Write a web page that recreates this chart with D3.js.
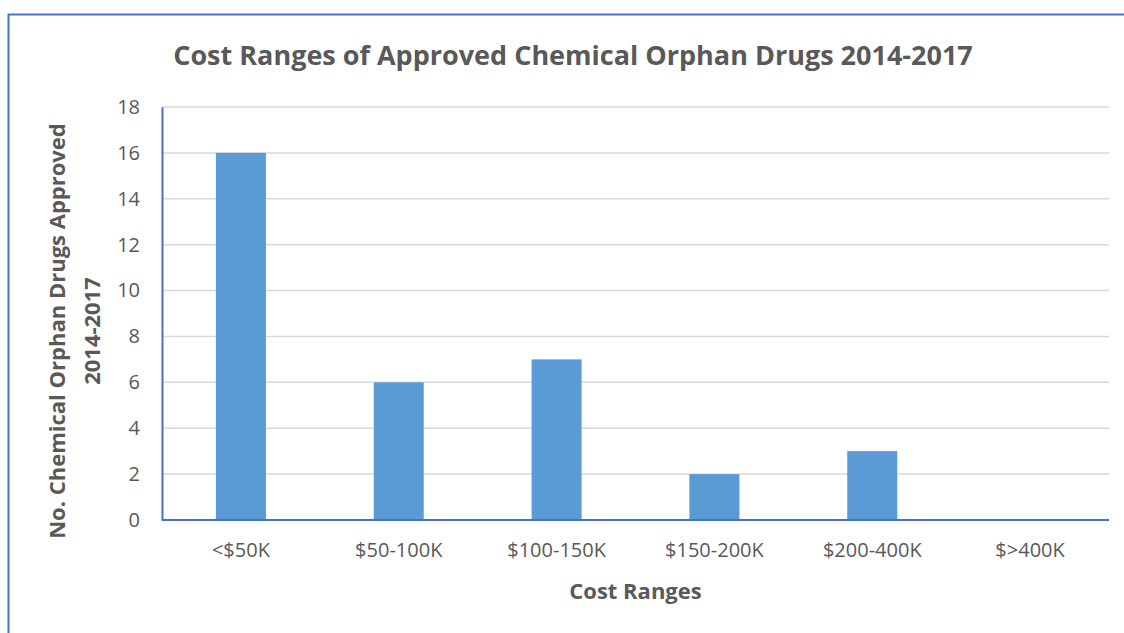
<!DOCTYPE html>
<html>
<head>
<meta charset="utf-8">
<script src="https://cdn.jsdelivr.net/npm/d3@7"></script>
<style>
  html, body { margin: 0; padding: 0; background: #fff; }
  svg { display: block; }
  text { font-family: "Open Sans", "Noto Sans", sans-serif; fill: #595959; }
</style>
</head>
<body>
<svg id="chart" width="1124" height="633"></svg>
<script>
// Cost range categories and counts of approved drugs
const categories = ["<$50K", "$50-100K", "$100-150K", "$150-200K", "$200-400K", "$>400K"];
const counts = [16, 6, 7, 2, 3, 0];
const yTicks = [0, 2, 4, 6, 8, 10, 12, 14, 16, 18];

const svg = d3.select("#chart");
const W = 1124, H = 633;
const plot = { left: 162, right: 1109, top: 107, bottom: 520 };

// Outer frame
svg.append("rect")
  .attr("x", 8.5).attr("y", 14.5)
  .attr("width", W + 10).attr("height", H + 10)
  .attr("fill", "#fff").attr("stroke", "#4472C4").attr("stroke-width", 2);

const x = d3.scaleBand()
  .domain(categories)
  .range([plot.left, plot.right])
  .paddingInner(0.683)
  .paddingOuter(0.3415);

const y = d3.scaleLinear().domain([0, 18]).range([plot.bottom, plot.top]);

// Horizontal gridlines
svg.append("g")
  .selectAll("line")
  .data(yTicks.filter(d => d > 0))
  .join("line")
  .attr("x1", plot.left).attr("x2", plot.right)
  .attr("y1", d => y(d)).attr("y2", d => y(d))
  .attr("stroke", "#d9d9d9").attr("stroke-width", 1.5);

// Bars
svg.append("g")
  .selectAll("rect")
  .data(categories.map((c, i) => ({ c, v: counts[i] })))
  .join("rect")
  .attr("x", d => x(d.c))
  .attr("width", x.bandwidth())
  .attr("y", d => y(d.v))
  .attr("height", d => y(0) - y(d.v))
  .attr("fill", "#5B9BD5");

// Y axis
const yAxis = svg.append("g")
  .attr("transform", `translate(${plot.left},0)`)
  .call(d3.axisLeft(y).tickValues(yTicks).tickSize(0).tickPadding(22));
yAxis.select(".domain").attr("stroke", "#4472C4").attr("stroke-width", 2);
yAxis.selectAll("text").attr("font-size", 20).attr("fill", "#595959")
  .style("font-family", "'Open Sans', sans-serif");

// X axis
const xAxis = svg.append("g")
  .attr("transform", `translate(0,${plot.bottom})`)
  .call(d3.axisBottom(x).tickSize(0).tickPadding(23));
xAxis.select(".domain").attr("stroke", "#4472C4").attr("stroke-width", 2)
  .attr("d", `M${plot.left},0H${plot.right}`);
xAxis.selectAll("text").attr("font-size", 20).attr("fill", "#595959")
  .style("font-family", "'Open Sans', sans-serif");

// Title
svg.append("text")
  .attr("x", 573).attr("y", 65)
  .attr("text-anchor", "middle")
  .attr("font-size", 27).attr("font-weight", "bold")
  .text("Cost Ranges of Approved Chemical Orphan Drugs 2014-2017");

// X axis title
svg.append("text")
  .attr("x", (plot.left + plot.right) / 2).attr("y", 599)
  .attr("text-anchor", "middle")
  .attr("font-size", 22).attr("font-weight", "bold")
  .text("Cost Ranges");

// Y axis title (two lines)
const yTitle = svg.append("text")
  .attr("transform", "translate(0,331) rotate(-90)")
  .attr("text-anchor", "middle")
  .attr("font-size", 22).attr("font-weight", "bold");
yTitle.append("tspan").attr("x", 0).attr("y", 65).text("No. Chemical Orphan Drugs Approved");
yTitle.append("tspan").attr("x", 0).attr("y", 100).text("2014-2017");
</script>
</body>
</html>
